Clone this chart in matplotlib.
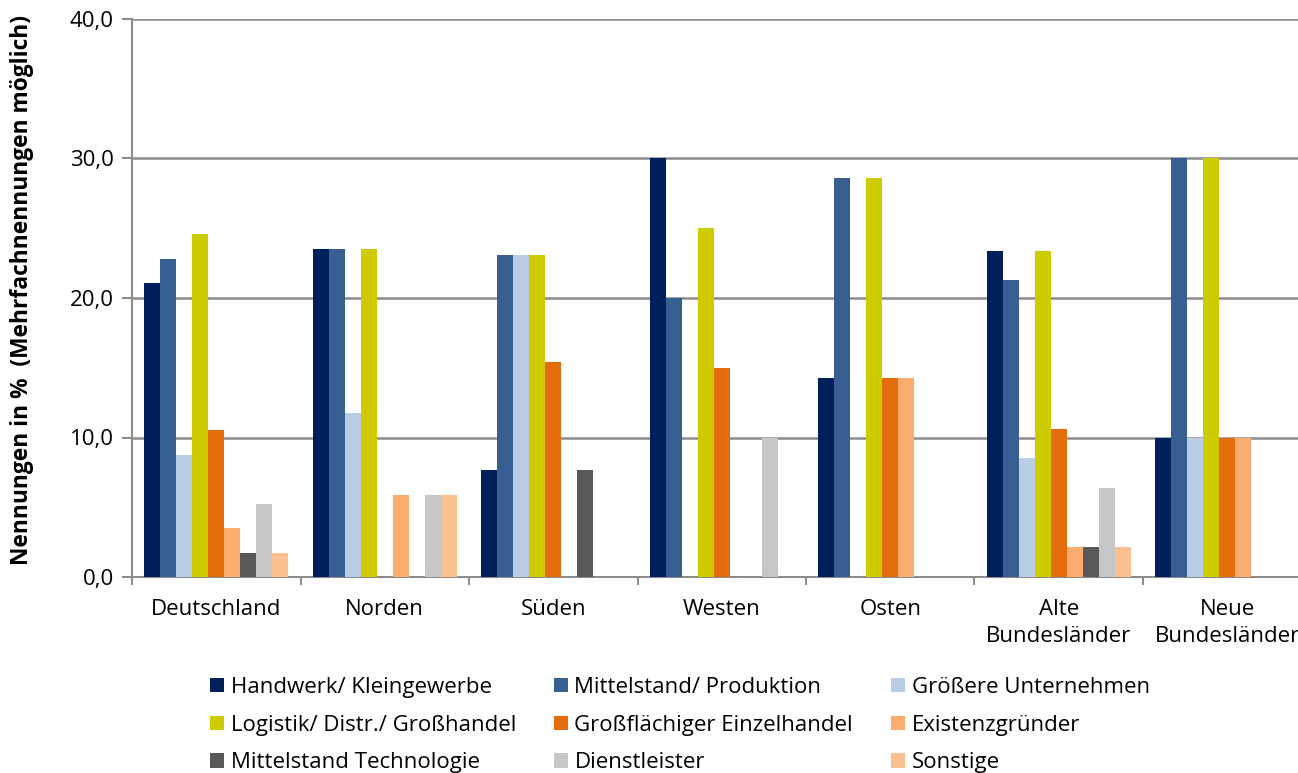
import matplotlib.pyplot as plt
import numpy as np

plt.rcParams['font.family'] = ['Open Sans', 'DejaVu Sans']

# Regionen und Branchen
regionen = ['Deutschland', 'Norden', 'Süden', 'Westen', 'Osten',
            'Alte\nBundesländer', 'Neue\nBundesländer']
branchen = ['Handwerk/ Kleingewerbe', 'Mittelstand/ Produktion', 'Größere Unternehmen',
            'Logistik/ Distr./ Großhandel', 'Großflächiger Einzelhandel', 'Existenzgründer',
            'Mittelstand Technologie', 'Dienstleister', 'Sonstige']
farben = ['#00205B', '#385F91', '#B9CDE5', '#CECC00', '#E46C0A', '#FCAC6E',
          '#595959', '#C6C6C6', '#FAC090']

# Nennungen in % je Region (Reihenfolge wie branchen)
deutschland = [21.05, 22.81, 8.77, 24.56, 10.53, 3.51, 1.75, 5.26, 1.75]
norden = [23.53, 23.53, 11.76, 23.53, 0.0, 5.88, 0.0, 5.88, 5.88]
sueden = [7.69, 23.08, 23.08, 23.08, 15.38, 0.0, 7.69, 0.0, 0.0]
westen = [30.0, 20.0, 0.0, 25.0, 15.0, 0.0, 0.0, 10.0, 0.0]
osten = [14.29, 28.57, 0.0, 28.57, 14.29, 14.29, 0.0, 0.0, 0.0]
alte_bl = [23.40, 21.28, 8.51, 23.40, 10.64, 2.13, 2.13, 6.38, 2.13]
neue_bl = [10.0, 30.0, 10.0, 30.0, 10.0, 10.0, 0.0, 0.0, 0.0]

werte = np.array([deutschland, norden, sueden, westen, osten, alte_bl, neue_bl])

fig = plt.figure(figsize=(12.98, 7.73), dpi=100)
ax = fig.add_axes([132 / 1298, 1 - 577 / 773, 1179.5 / 1298, 558 / 773])

x = np.arange(len(regionen))
breite = 0.095
balken = []
for i, name in enumerate(branchen):
    b = ax.bar(x + (i - 4) * breite, werte[:, i], breite, color=farben[i], label=name,
               zorder=3)
    balken.append(b)

ax.set_xlim(-0.5, len(regionen) - 0.5)
ax.set_ylim(0, 40)
ax.set_yticks([0, 10, 20, 30, 40])
ax.set_yticklabels(['0,0', '10,0', '20,0', '30,0', '40,0'], fontsize=16)
ax.yaxis.grid(True, color='#8C8C8C', linewidth=1.8, zorder=0)

ax.set_xticks(x)
ax.set_xticklabels(regionen, fontsize=16, linespacing=1.35)
ax.tick_params(axis='x', which='major', length=0, pad=16)
ax.set_xticks(np.arange(len(regionen) + 1) - 0.5, minor=True)
ax.tick_params(axis='x', which='minor', length=6, color='#8C8C8C', width=1.5)
ax.tick_params(axis='y', length=7, color='#8C8C8C', width=1.5, pad=6)

for s in ['top', 'right']:
    ax.spines[s].set_visible(False)
for s in ['left', 'bottom']:
    ax.spines[s].set_color('#8C8C8C')
    ax.spines[s].set_linewidth(1.5)

fig.text(22 / 1298, 1 - 290 / 773, 'Nennungen in %  (Mehrfachnennungen möglich)',
         rotation=90, ha='center', va='center', fontsize=16.4, fontweight='bold')

# Legende zeilenweise anordnen
ordnung = [0, 3, 6, 1, 4, 7, 2, 5, 8]
fig.legend([balken[i] for i in ordnung], [branchen[i] for i in ordnung],
           loc='upper left', bbox_to_anchor=(210 / 1298, 1 - 677 / 773), ncol=3,
           frameon=False, fontsize=16, handlelength=0.63, handleheight=0.63,
           handletextpad=0.3, columnspacing=1.7, labelspacing=0.75,
           borderpad=0, borderaxespad=0)

fig.savefig('out.png', dpi=100)
